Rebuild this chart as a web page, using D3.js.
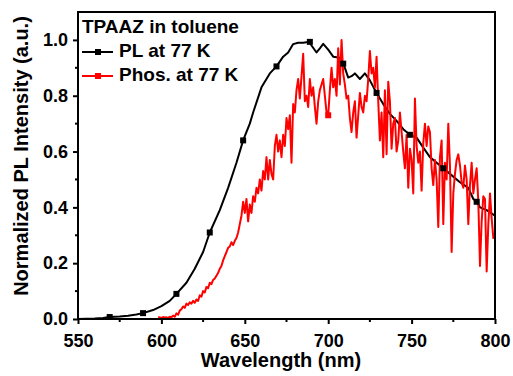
<!DOCTYPE html>
<html><head><meta charset="utf-8">
<script src="https://cdn.jsdelivr.net/npm/d3@7"></script>
<style>body{margin:0;background:#fff}svg{display:block}text{font-family:"Liberation Sans",Arial,sans-serif;font-weight:bold}</style>
</head><body><svg id="c" width="513" height="376"></svg>
<script>
// ---- data ----
const xTicks = [550, 600, 650, 700, 750, 800];
const yTicks = [0.0, 0.2, 0.4, 0.6, 0.8, 1.0];
const plWave = [550,555,560,565,569,575,580,585,589,595,600,605,609,615,620,625,629,635,640,645,649,653,655,660,665,669,673,676,679,682,685,689,690,693,695,697,700,703,707,709,710,712,714,716,719,722,725,729,733,737,741,745,749,753,757,761,765,769,773,779,784,787,789,791,795,800];
const plInt  = [0.0,0.001,0.002,0.004,0.007,0.009,0.012,0.016,0.021,0.032,0.046,0.065,0.09,0.13,0.18,0.24,0.31,0.39,0.47,0.56,0.64,0.70,0.74,0.83,0.88,0.905,0.94,0.955,0.985,0.99,0.99,0.993,0.98,0.955,0.97,0.986,0.965,0.94,0.936,0.915,0.90,0.865,0.87,0.88,0.86,0.88,0.855,0.81,0.77,0.735,0.71,0.68,0.66,0.65,0.614,0.58,0.56,0.54,0.52,0.49,0.47,0.43,0.42,0.40,0.39,0.37];
const plMarkWave = [569,589,609,629,649,669,689,709,729,749,769,789];
const phWaveStart = 598;
const phInt = [0.005,0.006,0.004,0.007,0.005,0.006,0.004,0.008,0.006,0.012,
 0.008,0.02,0.015,0.03,0.035,0.045,0.04,0.055,0.05,0.06,
 0.055,0.065,0.058,0.07,0.065,0.085,0.08,0.1,0.095,0.115,
 0.11,0.13,0.125,0.14,0.145,0.155,0.165,0.18,0.19,0.21,
 0.225,0.24,0.255,0.26,0.275,0.265,0.28,0.29,0.31,0.34,
 0.37,0.42,0.38,0.43,0.35,0.41,0.38,0.44,0.42,0.47,
 0.45,0.5,0.46,0.53,0.5,0.58,0.5,0.57,0.52,0.5,
 0.62,0.66,0.6,0.64,0.58,0.66,0.62,0.72,0.68,0.73,
 0.56,0.77,0.74,0.82,0.86,0.79,0.87,0.95,0.78,0.8,
 0.76,0.86,0.8,0.83,0.76,0.7,0.78,0.82,0.84,0.86,
 0.8,0.74,0.73,0.82,0.9,0.83,0.86,0.8,0.97,0.84,
 1.0,0.88,0.84,0.79,0.8,0.72,0.67,0.74,0.78,0.65,
 0.73,0.81,0.76,0.74,0.8,0.78,0.86,0.96,0.88,0.9,
 0.83,0.94,0.78,0.64,0.74,0.58,0.82,0.59,0.85,0.78,
 0.61,0.7,0.72,0.6,0.64,0.74,0.67,0.6,0.54,0.66,
 0.47,0.61,0.57,0.45,0.79,0.62,0.56,0.6,0.46,0.63,
 0.7,0.62,0.69,0.67,0.54,0.48,0.57,0.5,0.33,0.58,
 0.64,0.34,0.56,0.5,0.7,0.55,0.24,0.45,0.52,0.57,
 0.59,0.55,0.49,0.47,0.55,0.5,0.34,0.48,0.56,0.45,
 0.5,0.54,0.42,0.19,0.35,0.44,0.43,0.17,0.34,0.45,
 0.36,0.29,0.3];
const phMarkWave = [700];
const legendTitle = "TPAAZ in toluene";
const seriesNames = ["PL at 77 K", "Phos. at 77 K"];
const colors = ["#000000", "#ff0000"];

// ---- chart ----
const svg = d3.select("#c");
const L = 78, R = 495, T = 12, B = 319;
const x = d3.scaleLinear().domain([550, 800]).range([L, R]);
const y = d3.scaleLinear().domain([0, 1.1]).range([B, T]);

const pl = plWave.map((w, i) => ({w, v: plInt[i]}));
const ph = phInt.map((v, i) => ({w: phWaveStart + i, v}));

svg.append("clipPath").attr("id", "clip").append("rect")
  .attr("x", L).attr("y", T).attr("width", R - L).attr("height", B - T);

const line = d3.line().x(d => x(d.w)).y(d => y(d.v));
const g = svg.append("g").attr("clip-path", "url(#clip)");
g.append("path").datum(pl).attr("d", line).attr("fill", "none")
  .attr("stroke", colors[0]).attr("stroke-width", 2).attr("stroke-linejoin", "round");
g.append("path").datum(ph).attr("d", line).attr("fill", "none")
  .attr("stroke", colors[1]).attr("stroke-width", 2).attr("stroke-linejoin", "round");

const ms = 6;
g.selectAll("rect.mp").data(pl.filter(d => plMarkWave.includes(d.w))).enter().append("rect")
  .attr("x", d => x(d.w) - ms/2).attr("y", d => y(d.v) - ms/2).attr("width", ms).attr("height", ms)
  .attr("fill", colors[0]);
g.selectAll("rect.mr").data(ph.filter(d => phMarkWave.includes(d.w))).enter().append("rect")
  .attr("x", d => x(d.w) - ms/2).attr("y", d => y(d.v) - ms/2).attr("width", ms).attr("height", ms)
  .attr("fill", colors[1]);

// axes
const minorX = d3.range(575, 800, 50);
const minorY = [0.1, 0.3, 0.5, 0.7, 0.9];
const xa = svg.append("g").attr("transform", `translate(0,${B})`)
  .call(d3.axisBottom(x).tickValues(xTicks).tickFormat(d3.format("d")).tickSize(5).tickPadding(10));
const ya = svg.append("g").attr("transform", `translate(${L},0)`)
  .call(d3.axisLeft(y).tickValues(yTicks).tickFormat(d3.format(".1f")).tickSize(5).tickPadding(5));
[xa, ya].forEach(a => {
  a.select(".domain").remove();
  a.selectAll("line").attr("stroke", "#000").attr("stroke-width", 2);
  a.selectAll("text").attr("fill", "#000").style("font-size", "18px").style("font-weight", "bold");
});
xa.selectAll("line.mn").data(minorX).enter().append("line")
  .attr("x1", d => x(d)).attr("x2", d => x(d)).attr("y1", 0).attr("y2", 3)
  .attr("stroke", "#000").attr("stroke-width", 2);
ya.selectAll("line.mn").data(minorY).enter().append("line")
  .attr("y1", d => y(d)).attr("y2", d => y(d)).attr("x1", 0).attr("x2", -3)
  .attr("stroke", "#000").attr("stroke-width", 2);

svg.append("rect").attr("x", L).attr("y", T).attr("width", R - L).attr("height", B - T)
  .attr("fill", "none").attr("stroke", "#000").attr("stroke-width", 2);

// titles
svg.append("text").attr("x", 281).attr("y", 367).attr("text-anchor", "middle")
  .style("font-size", "20px").text("Wavelength (nm)");
svg.append("text").attr("transform", "translate(28,156) rotate(-90)").attr("text-anchor", "middle")
  .style("font-size", "20px").text("Normalized PL Intensity (a.u.)");

// legend
svg.append("text").attr("x", 82).attr("y", 33).style("font-size", "19px").text(legendTitle);
seriesNames.forEach((n, i) => {
  const ly = 52 + i * 24;
  svg.append("line").attr("x1", 82).attr("x2", 113).attr("y1", ly).attr("y2", ly)
    .attr("stroke", colors[i]).attr("stroke-width", 2);
  svg.append("rect").attr("x", 98 - ms/2).attr("y", ly - ms/2).attr("width", ms).attr("height", ms)
    .attr("fill", colors[i]);
  svg.append("text").attr("x", 119).attr("y", ly + 5).style("font-size", "19px").text(n);
});
</script></body></html>
